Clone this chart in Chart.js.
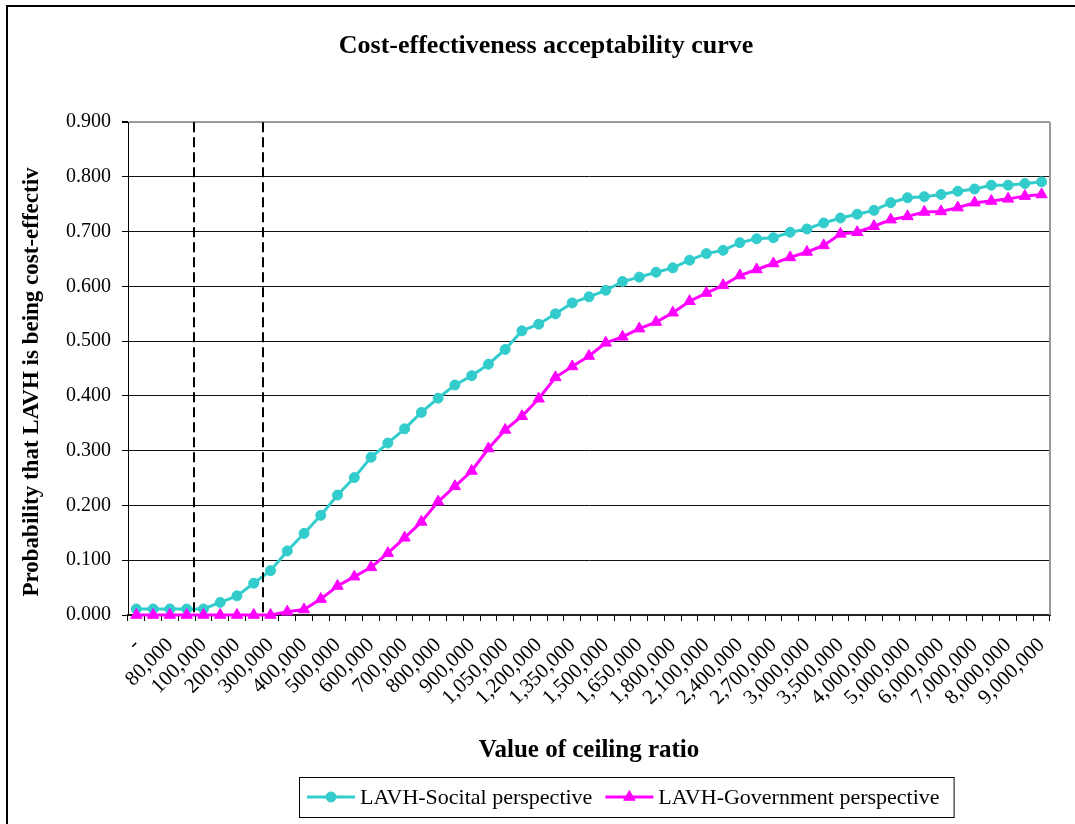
<!DOCTYPE html>
<html>
<head>
<meta charset="utf-8">
<title>Cost-effectiveness acceptability curve</title>
<script src="https://cdn.jsdelivr.net/npm/chart.js@4.4.1/dist/chart.umd.min.js"></script>
<style>
  html, body { margin: 0; padding: 0; background: #fff; overflow: hidden; }
  canvas { display: block; }
</style>
</head>
<body>
<canvas id="ceac" width="1075" height="824"></canvas>
<script>
// Ceiling ratios (willingness to pay per unit of effect); every other one is labelled
const ceilingRatios = [
  '-', '50,000', '80,000', '90,000', '100,000', '150,000', '200,000', '250,000',
  '300,000', '350,000', '400,000', '450,000', '500,000', '550,000', '600,000', '650,000',
  '700,000', '750,000', '800,000', '850,000', '900,000', '975,000', '1,050,000', '1,125,000',
  '1,200,000', '1,275,000', '1,350,000', '1,425,000', '1,500,000', '1,575,000', '1,650,000', '1,725,000',
  '1,800,000', '1,950,000', '2,100,000', '2,250,000', '2,400,000', '2,550,000', '2,700,000', '2,850,000',
  '3,000,000', '3,250,000', '3,500,000', '3,750,000', '4,000,000', '4,500,000', '5,000,000', '5,500,000',
  '6,000,000', '6,500,000', '7,000,000', '7,500,000', '8,000,000', '8,500,000', '9,000,000'
];

// Probability that LAVH is cost-effective, societal perspective
const societalProb = [
  0.011, 0.011, 0.011, 0.011, 0.011, 0.023, 0.035, 0.058,
  0.081, 0.117, 0.149, 0.182, 0.219, 0.251, 0.288, 0.314,
  0.340, 0.370, 0.396, 0.420, 0.437, 0.458, 0.485, 0.519,
  0.531, 0.550, 0.570, 0.581, 0.593, 0.609, 0.617, 0.626,
  0.634, 0.648, 0.660, 0.666, 0.680, 0.687, 0.689, 0.699,
  0.705, 0.716, 0.725, 0.732, 0.739, 0.753, 0.762, 0.764,
  0.768, 0.774, 0.778, 0.785, 0.785, 0.788, 0.791
];

// Probability that LAVH is cost-effective, government perspective
const governmentProb = [
  0.000, 0.000, 0.000, 0.000, 0.000, 0.000, 0.000, 0.000,
  0.000, 0.006, 0.010, 0.029, 0.053, 0.070, 0.087, 0.113,
  0.141, 0.170, 0.207, 0.235, 0.263, 0.304, 0.338, 0.363,
  0.395, 0.434, 0.454, 0.473, 0.497, 0.508, 0.523, 0.535,
  0.552, 0.573, 0.588, 0.602, 0.620, 0.631, 0.642, 0.653,
  0.663, 0.675, 0.696, 0.699, 0.710, 0.722, 0.728, 0.736,
  0.737, 0.744, 0.753, 0.756, 0.760, 0.765, 0.768
];

// Probability axis: 0.000 to 0.900 in steps of 0.100
const probAxis = { min: 0, max: 0.9, step: 0.1 };

// Threshold markers, as fractional positions on the ceiling-ratio axis
const thresholdPositions = [3.41, 7.57];

const seriesNames = ['LAVH-Socital perspective', 'LAVH-Government perspective'];

const SERIF = "'Liberation Serif', 'Times New Roman', serif";
const TEAL = '#33CCCC';
const MAGENTA = '#FF00FF';

// White page with the outer frame line along top and left
const pageFrame = {
  id: 'pageFrame',
  beforeDraw(chart) {
    const ctx = chart.ctx;
    ctx.save();
    ctx.fillStyle = '#fff';
    ctx.fillRect(0, 0, chart.width, chart.height);
    ctx.strokeStyle = '#000';
    ctx.lineWidth = 2;
    ctx.beginPath();
    ctx.moveTo(7, chart.height);
    ctx.lineTo(7, 6);
    ctx.lineTo(chart.width, 6);
    ctx.stroke();
    ctx.restore();
  }
};

// Grey right edge of the plot area
const plotEdge = {
  id: 'plotEdge',
  beforeDatasetsDraw(chart) {
    const { ctx, chartArea } = chart;
    ctx.save();
    ctx.strokeStyle = '#9a9a9a';
    ctx.lineWidth = 2;
    ctx.beginPath();
    ctx.moveTo(chartArea.right, chartArea.top);
    ctx.lineTo(chartArea.right, chartArea.bottom);
    ctx.stroke();
    ctx.restore();
  }
};

// Dashed vertical threshold lines
const thresholdLines = {
  id: 'thresholdLines',
  afterDatasetsDraw(chart) {
    const { ctx, chartArea, scales } = chart;
    ctx.save();
    ctx.strokeStyle = '#000';
    ctx.lineWidth = 2;
    ctx.setLineDash([10, 5]);
    thresholdPositions.forEach(v => {
      const x = Math.round(scales.x.getPixelForValue(v));
      ctx.beginPath();
      ctx.moveTo(x, chartArea.top);
      ctx.lineTo(x, chartArea.bottom);
      ctx.stroke();
    });
    ctx.restore();
  }
};

// Vertical axis title
const yAxisTitle = {
  id: 'yAxisTitle',
  afterDraw(chart, args, opts) {
    const ctx = chart.ctx;
    ctx.save();
    ctx.translate(opts.x, opts.y);
    ctx.rotate(-Math.PI / 2);
    ctx.font = 'bold 23px ' + SERIF;
    ctx.fillStyle = '#000';
    ctx.textAlign = 'center';
    ctx.textBaseline = 'middle';
    ctx.fillText(opts.text, 0, 0);
    ctx.restore();
  }
};

// Legend in a framed box below the axis title
const boxedLegend = {
  id: 'boxedLegend',
  afterDraw(chart, args, opts) {
    const ctx = chart.ctx;
    const { left, top, height, sample, gap, itemGap, padRight, fontSize } = opts;
    ctx.save();
    ctx.font = fontSize + 'px ' + SERIF;
    const cy = top + height / 2;
    let x = left + opts.padLeft;
    chart.data.datasets.forEach((ds, i) => {
      ctx.strokeStyle = ds.borderColor;
      ctx.lineWidth = ds.borderWidth;
      ctx.beginPath();
      ctx.moveTo(x, cy);
      ctx.lineTo(x + sample, cy);
      ctx.stroke();
      ctx.fillStyle = ds.pointBackgroundColor;
      ctx.strokeStyle = ds.pointBorderColor;
      ctx.lineWidth = 1;
      Chart.helpers.drawPoint(ctx, { pointStyle: ds.pointStyle, radius: ds.pointRadius, rotation: 0, borderWidth: 1 }, x + sample / 2, cy);
      x += sample + gap;
      ctx.fillStyle = '#000';
      ctx.textAlign = 'left';
      ctx.textBaseline = 'middle';
      ctx.fillText(ds.label, x, cy + 1);
      x += ctx.measureText(ds.label).width;
      if (i < chart.data.datasets.length - 1) x += itemGap;
    });
    const right = x + padRight;
    ctx.strokeStyle = '#000';
    ctx.lineWidth = 1;
    ctx.strokeRect(left + 0.5, top + 0.5, right - left, height);
    ctx.restore();
  }
};

new Chart(document.getElementById('ceac'), {
  type: 'line',
  data: {
    labels: ceilingRatios,
    datasets: [
      {
        label: seriesNames[0],
        data: societalProb,
        borderColor: TEAL,
        backgroundColor: TEAL,
        pointBackgroundColor: TEAL,
        pointBorderColor: TEAL,
        pointStyle: 'circle',
        pointRadius: 5,
        pointBorderWidth: 1,
        borderWidth: 3,
        tension: 0,
        clip: false,
        order: 1
      },
      {
        label: seriesNames[1],
        data: governmentProb,
        borderColor: MAGENTA,
        backgroundColor: MAGENTA,
        pointBackgroundColor: MAGENTA,
        pointBorderColor: MAGENTA,
        pointStyle: 'triangle',
        pointRadius: 6.5,
        pointBorderWidth: 1,
        borderWidth: 3,
        tension: 0,
        clip: false,
        order: 0
      }
    ]
  },
  options: {
    responsive: false,
    animation: false,
    devicePixelRatio: 1,
    layout: { padding: { left: 42, right: 25, top: 0, bottom: 55 } },
    plugins: {
      legend: { display: false },
      tooltip: { enabled: false },
      title: {
        display: true,
        text: 'Cost-effectiveness acceptability curve',
        color: '#000',
        font: { family: SERIF, size: 26, weight: 'bold', lineHeight: 1.2 },
        padding: { top: 31, bottom: 60 }
      },
      yAxisTitle: { text: 'Probability that LAVH is being cost-effectiv', x: 32, y: 382 },
      boxedLegend: { left: 299, top: 777, height: 40, padLeft: 8, sample: 48, gap: 5, itemGap: 13, padRight: 14, fontSize: 22 }
    },
    scales: {
      x: {
        type: 'category',
        offset: true,
        grid: {
          display: true,
          offset: true,
          drawOnChartArea: false,
          drawTicks: true,
          tickLength: 6,
          tickColor: '#000',
          tickWidth: 1
        },
        border: { display: true, color: '#222', width: 2 },
        ticks: {
          autoSkip: false,
          minRotation: 45,
          maxRotation: 45,
          padding: 12,
          color: '#000',
          font: { family: SERIF, size: 21 },
          callback(value, index) {
            return index % 2 === 0 ? this.getLabelForValue(value) : '';
          }
        },
        title: {
          display: true,
          text: 'Value of ceiling ratio',
          color: '#000',
          font: { family: SERIF, size: 25, weight: 'bold', lineHeight: 1.2 },
          padding: { top: 0, bottom: 3 }
        },
        afterFit(scale) { scale.height = 154; }
      },
      y: {
        min: probAxis.min,
        max: probAxis.max,
        grid: {
          display: true,
          drawTicks: true,
          tickLength: 6,
          tickColor: '#000',
          color(ctx) {
            return ctx.tick && Math.abs(ctx.tick.value - probAxis.max) < 1e-6 ? '#9a9a9a' : '#111';
          },
          lineWidth(ctx) {
            return ctx.tick && Math.abs(ctx.tick.value - probAxis.max) < 1e-6 ? 2 : 1;
          }
        },
        border: { display: true, color: '#000', width: 1 },
        ticks: {
          stepSize: probAxis.step,
          padding: 11,
          color: '#000',
          font: { family: SERIF, size: 20 },
          callback(value) { return Number(value).toFixed(3); }
        },
        afterFit(scale) { scale.width = 86; }
      }
    }
  },
  plugins: [pageFrame, plotEdge, thresholdLines, yAxisTitle, boxedLegend]
});
</script>
</body>
</html>
